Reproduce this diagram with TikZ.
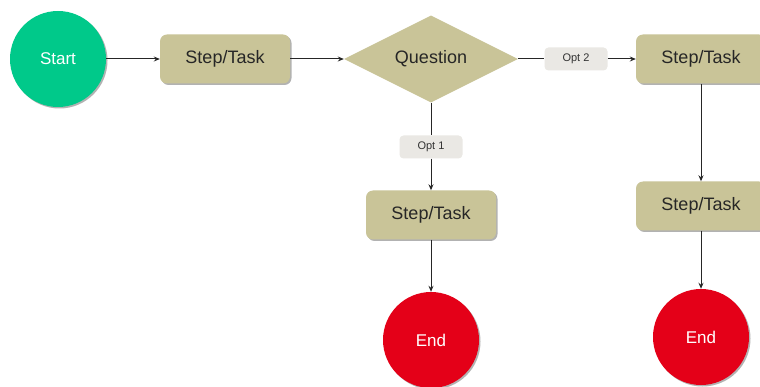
\documentclass[tikz,border=0pt]{standalone}
\usepackage{fontspec}
\setmainfont{Liberation Sans}
\usetikzlibrary{shapes.geometric,shadows,arrows.meta}
\definecolor{startgreen}{RGB}{0,201,138}
\definecolor{endred}{RGB}{228,0,24}
\definecolor{tan}{RGB}{201,196,152}
\definecolor{lbl}{RGB}{234,232,228}
\tikzset{
  shd/.style={drop shadow={shadow xshift=1.5pt,shadow yshift=-1.5pt,fill=black,opacity=0.3}},
  term/.style={circle,minimum size=96pt,inner sep=0pt,text=white,font=\fontsize{17}{20}\selectfont,shd},
  taskbox/.style={rectangle,rounded corners=7pt,fill=tan,minimum width=130pt,minimum height=49pt,inner sep=0pt,font=\fontsize{18}{21}\selectfont,text=black!85,shd},
  decision/.style={diamond,fill=tan,minimum width=174pt,minimum height=87pt,aspect=2,inner sep=0pt,font=\fontsize{18}{21}\selectfont,text=black!85},
  optlbl/.style={rectangle,rounded corners=4pt,fill=lbl,minimum width=63pt,minimum height=23pt,inner sep=0pt,font=\fontsize{11}{13}\selectfont,text=black!80},
  conn/.style={draw=black!85,line width=1pt,-{Stealth[length=6pt,width=5pt]}},
  plain/.style={draw=black!85,line width=1pt}
}
\begin{document}
\begin{tikzpicture}[x=1pt,y=-1pt]
\useasboundingbox (0,0) rectangle (760,387);
\fill[white] (0,0) rectangle (760,387);
\node[term,fill=startgreen] (start) at (58,59) {Start};
\node[taskbox] (t1) at (225,59) {Step/Task};
\node[decision] (q) at (431,59) {Question};
\node[optlbl] (o2) at (576,59) {Opt 2};
\node[taskbox] (t2) at (701,59) {Step/Task};
\node[optlbl] (o1) at (431,147) {Opt 1};
\node[taskbox] (t3) at (431,215) {Step/Task};
\node[term,fill=endred] (e1) at (431,340) {End};
\node[taskbox] (t4) at (701,206) {Step/Task};
\node[term,fill=endred] (e2) at (701,337) {End};
\draw[conn] (start) -- (t1);
\draw[conn] (t1) -- (q);
\draw[plain] (q.east) -- (o2.west);
\draw[conn] (o2.east) -- (t2.west);
\draw[plain] (q.south) -- (o1.north);
\draw[conn] (o1.south) -- (t3.north);
\draw[conn] (t3) -- (e1);
\draw[conn] (t2.south) -- (t4.north);
\draw[conn] (t4) -- (e2);
\end{tikzpicture}
\end{document}
